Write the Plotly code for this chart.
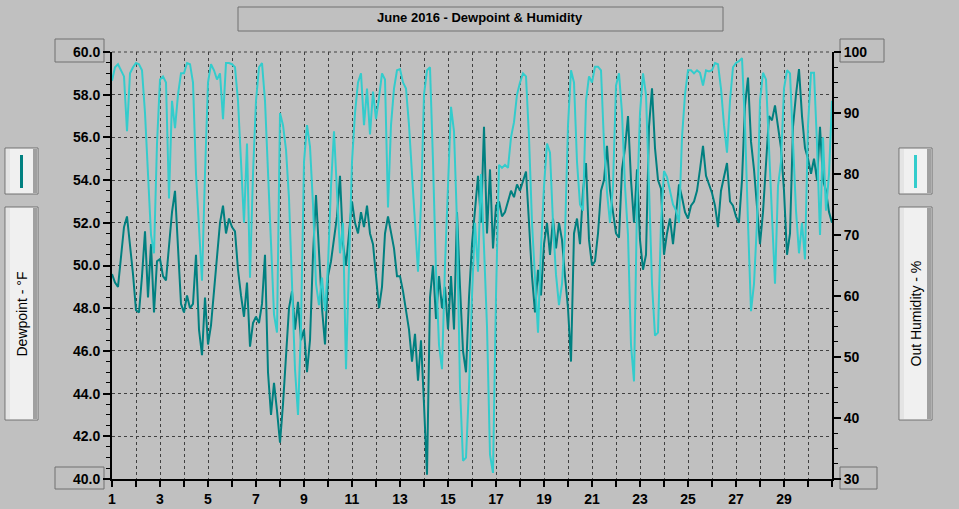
import plotly.graph_objects as go

# ---------------- data (3-hourly samples, June 2016) ----------------
title_text = "June 2016 - Dewpoint & Humidity"
samples_per_day = 8
first_day = 1

dewpoint_f = [
    49.6, 49.2, 49.0, 50.5, 51.8, 52.3, 51.0, 49.6,   # 1
    47.9, 47.8, 49.5, 51.6, 48.5, 51.0, 47.8, 50.2,   # 2
    50.3, 49.5, 49.3, 50.8, 52.5, 53.5, 50.5, 48.2,   # 3
    47.8, 48.6, 48.0, 48.2, 50.5, 47.0, 45.8, 48.5,   # 4
    46.3, 47.2, 48.8, 50.5, 52.0, 52.8, 51.5, 52.2,   # 5
    51.8, 51.6, 49.8, 48.6, 47.6, 49.2, 46.2, 47.3,   # 6
    47.6, 47.3, 48.2, 50.5, 45.0, 43.0, 44.5, 43.2,   # 7
    41.7, 43.5, 46.0, 48.0, 48.8, 47.0, 48.3, 46.5,   # 8
    47.0, 45.0, 46.5, 50.5, 53.3, 50.5, 48.0, 46.3,   # 9
    49.5, 50.2, 51.2, 52.3, 54.2, 51.0, 50.0, 51.5,   # 10
    53.0, 52.0, 51.5, 52.5, 51.8, 52.8, 51.5, 51.0,   # 11
    49.5, 48.0, 49.0, 51.5, 52.3, 51.5, 50.8, 49.5,   # 12
    49.5, 48.8, 47.8, 47.0, 45.5, 46.8, 44.6, 46.5,   # 13
    43.5, 40.2, 48.5, 50.0, 47.5, 49.5, 48.0, 49.0,   # 14
    47.0, 49.5, 47.0, 52.5, 49.0, 46.0, 45.0, 48.5,   # 15
    51.0, 52.5, 54.2, 52.0, 56.5, 51.5, 54.5, 50.8,   # 16
    52.8, 53.0, 52.3, 52.5, 53.0, 53.5, 53.2, 53.8,   # 17
    53.5, 54.0, 54.4, 52.0, 49.5, 47.8, 49.8, 48.6,   # 18
    51.0, 52.0, 50.5, 52.2, 50.8, 52.0, 51.2, 49.5,   # 19
    48.0, 45.5, 51.5, 52.2, 51.0, 53.5, 54.8, 51.2,   # 20
    50.0, 50.2, 51.5, 53.5, 54.0, 55.6, 53.5, 52.5,   # 21
    51.5, 51.3, 54.5, 55.5, 57.0, 54.0, 52.0, 54.5,   # 22
    51.2, 49.8, 50.5, 56.5, 58.3, 55.5, 54.0, 53.6,   # 23
    50.5, 51.5, 52.2, 51.0, 52.5, 53.8, 53.2, 52.5,   # 24
    52.2, 52.8, 53.0, 53.5, 54.5, 55.6, 54.2, 53.8,   # 25
    53.4, 52.8, 51.8, 53.5, 54.2, 54.8, 53.0, 52.8,   # 26
    52.3, 52.0, 54.0, 57.5, 58.8, 55.8, 54.5, 52.8,   # 27
    51.0, 52.5, 54.5, 57.0, 56.8, 57.5, 56.5, 55.5,   # 28
    53.5, 50.5, 51.5, 56.5, 58.0, 59.2, 57.0, 55.5,   # 29
    55.0, 54.3, 55.0, 54.0, 56.5, 54.0, 53.5, 52.5,   # 30
    52.0,
]

humidity_pct = [
    95.3, 97.5, 98.0, 97.0, 96.0, 87.0, 96.5, 97.5,   # 1
    98.2, 98.0, 97.0, 90.0, 80.0, 70.0, 67.0, 85.0,   # 2
    95.5, 96.0, 95.0, 76.0, 92.0, 87.5, 93.0, 96.5,   # 3
    96.5, 98.2, 98.0, 95.0, 80.0, 70.0, 62.5, 80.0,   # 4
    95.0, 98.0, 97.0, 95.5, 96.5, 89.0, 98.2, 98.2,   # 5
    98.0, 97.5, 92.0, 82.0, 72.0, 85.0, 63.0, 80.0,   # 6
    92.0, 97.5, 98.2, 92.0, 80.0, 68.0, 57.0, 54.0,   # 7
    90.0, 88.0, 84.0, 76.0, 60.0, 48.0, 40.5, 55.0,   # 8
    82.0, 88.0, 84.5, 75.0, 62.0, 58.5, 63.0, 57.5,   # 9
    65.0, 78.0, 87.0, 78.0, 67.0, 72.0, 48.0, 65.0,   # 10
    82.0, 90.0, 95.0, 96.5, 88.0, 94.0, 86.5, 93.5,   # 11
    89.0, 92.5, 96.5, 95.5, 74.5, 88.0, 94.0, 97.0,   # 12
    97.2, 95.0, 94.0, 88.0, 80.0, 70.0, 64.0, 75.0,   # 13
    93.0, 97.0, 97.5, 82.0, 64.0, 52.0, 48.0, 65.0,   # 14
    78.0, 91.0, 87.0, 72.0, 45.0, 33.0, 33.5, 45.0,   # 15
    60.0, 72.0, 64.0, 80.0, 68.0, 55.0, 34.0, 31.0,   # 16
    60.0, 81.5, 81.0, 81.5, 81.0, 86.0, 88.5, 93.0,   # 17
    95.0, 96.5, 96.0, 86.0, 72.0, 62.0, 54.0, 68.0,   # 18
    78.0, 85.0, 83.5, 72.0, 63.5, 58.5, 62.0, 70.0,   # 19
    88.0, 97.0, 95.0, 82.0, 75.0, 74.0, 92.0, 96.0,   # 20
    95.0, 97.6, 97.6, 97.0, 85.0, 77.0, 72.0, 78.0,   # 21
    94.5, 96.5, 90.0, 78.0, 70.0, 52.0, 46.0, 75.0,   # 22
    90.0, 96.5, 93.0, 78.0, 62.0, 53.5, 54.0, 72.0,   # 23
    80.5, 79.5, 77.5, 75.0, 74.0, 72.0, 86.0, 93.0,   # 24
    97.0, 97.0, 96.5, 97.0, 96.6, 94.5, 97.0, 96.8,   # 25
    97.0, 98.2, 98.0, 94.0, 88.0, 83.5, 92.0, 97.5,   # 26
    98.2, 98.5, 99.0, 88.0, 72.0, 57.5, 62.0, 72.0,   # 27
    92.0, 96.6, 95.5, 84.0, 74.0, 62.0, 78.0, 82.0,   # 28
    94.0, 97.0, 96.5, 84.0, 74.0, 67.0, 72.0, 66.0,   # 29
    88.0, 96.6, 96.6, 85.0, 70.0, 86.0, 74.0, 80.0,   # 30
    92.0,
]

x_tick_days = list(range(1, 32))
x_tick_labels = [str(d) if (d % 2 == 1 and d < 31) else "" for d in x_tick_days]

dew_range = [40, 60]
hum_range = [30, 100]

# ---------------- styling ----------------
BG = "#C0C0C0"
DEW_COLOR = "#008080"
HUM_COLOR = "#33CCCC"
GRID = "#404040"
BOX = "#707070"
FONT = "Liberation Sans"

W, H = 959, 509
ML, MR, MT, MB = 112, 127, 52, 30
PW, PH = W - ML - MR, H - MT - MB

def px(x):
    return (x - ML) / PW

def py(y):
    return (H - MB - y) / PH

t_dew = [first_day + i / samples_per_day for i in range(len(dewpoint_f))]
t_hum = [first_day + i / samples_per_day for i in range(len(humidity_pct))]

fig = go.Figure()
fig.add_trace(go.Scatter(x=t_hum, y=humidity_pct, yaxis="y2", mode="lines",
                         line=dict(color=HUM_COLOR, width=2), name="Out Humidity"))
fig.add_trace(go.Scatter(x=t_dew, y=dewpoint_f, mode="lines",
                         line=dict(color=DEW_COLOR, width=2), name="Dewpoint"))

shapes = []

def rect(x0, y0, x1, y1, fill=None, line=BOX, width=1):
    shapes.append(dict(type="rect", xref="paper", yref="paper",
                       x0=px(x0), x1=px(x1), y0=py(y1), y1=py(y0),
                       fillcolor=fill if fill else "rgba(0,0,0,0)",
                       line=dict(color=line, width=width), layer="below"))

def panel(x0, y0, x1, y1):
    rect(x0, y0, x1, y1, fill="#F0F0F0", line=BOX)
    rect(x0 + 1, y0 + 1, x0 + 5, y1 - 1, fill="#E4E4E4", line="#E4E4E4", width=0)
    rect(x1 - 5, y0 + 1, x1 - 1, y1 - 1, fill="#A0A0A0", line="#A0A0A0", width=0)

# title box and end-label boxes
rect(238, 7, 723, 31)
rect(55, 39, 104, 62)
rect(55, 467, 104, 489)
rect(840, 39, 884, 62)
rect(840, 467, 877, 489)

# legend icon panels and axis title panels
panel(5, 148, 38, 194)
panel(899, 148, 932, 194)
panel(5, 207, 38, 420)
panel(899, 207, 932, 420)

for xc, col in ((21.5, DEW_COLOR), (915.5, HUM_COLOR)):
    shapes.append(dict(type="line", xref="paper", yref="paper",
                       x0=px(xc), x1=px(xc), y0=py(155), y1=py(188),
                       line=dict(color=col, width=3)))

# top dashed border (grid at 60)
shapes.append(dict(type="line", xref="paper", yref="paper", x0=0, x1=1, y0=1, y1=1,
                   line=dict(color=GRID, width=1, dash="3px,3px")))

annotations = [
    dict(text=title_text, xref="paper", yref="paper", x=px(480.5), y=py(18),
         showarrow=False, font=dict(family=FONT, size=13, color="black", weight="bold"),
         xanchor="center", yanchor="middle"),
    dict(text="Dewpoint - °F", xref="paper", yref="paper", x=px(21.5), y=py(314),
         showarrow=False, textangle=-90, font=dict(family=FONT, size=14, color="black"),
         xanchor="center", yanchor="middle"),
    dict(text="Out Humidity - %", xref="paper", yref="paper", x=px(915.5), y=py(314),
         showarrow=False, textangle=-90, font=dict(family=FONT, size=14, color="black"),
         xanchor="center", yanchor="middle"),
]

tickfont = dict(family=FONT, size=14, color="black", weight="bold")

fig.update_layout(
    width=W, height=H,
    margin=dict(l=ML, r=MR, t=MT, b=MB, autoexpand=False),
    paper_bgcolor=BG, plot_bgcolor=BG,
    showlegend=False,
    shapes=shapes, annotations=annotations,
    xaxis=dict(range=[1, 31], tickmode="array", tickvals=x_tick_days, ticktext=x_tick_labels,
               ticks="outside", ticklen=6, tickwidth=2, tickcolor="black",
               showline=True, linecolor="black", linewidth=2,
               showgrid=True, gridcolor=GRID, gridwidth=1, griddash="3px,3px",
               zeroline=False, tickfont=tickfont, fixedrange=True),
    yaxis=dict(range=dew_range, dtick=2, tick0=40, tickformat=".1f",
               ticks="outside", ticklen=7, tickwidth=2, tickcolor="black",
               minor=dict(dtick=0.5, ticklen=4, tickwidth=1, tickcolor="black", showgrid=False),
               showline=True, linecolor="black", linewidth=2,
               showgrid=True, gridcolor=GRID, gridwidth=1, griddash="3px,3px",
               zeroline=False, tickfont=tickfont),
    yaxis2=dict(range=hum_range, dtick=10, tick0=30, overlaying="y", side="right",
                ticks="outside", ticklen=7, tickwidth=2, tickcolor="black",
                minor=dict(dtick=2.5, ticklen=4, tickwidth=1, tickcolor="black", showgrid=False),
                showline=True, linecolor="black", linewidth=2,
                showgrid=False, zeroline=False, tickfont=tickfont),
)

fig.write_html(
    "out.html",
    config={"displayModeBar": False},
    post_script="document.body.style.margin='0';document.body.style.background='#C0C0C0';",
)
